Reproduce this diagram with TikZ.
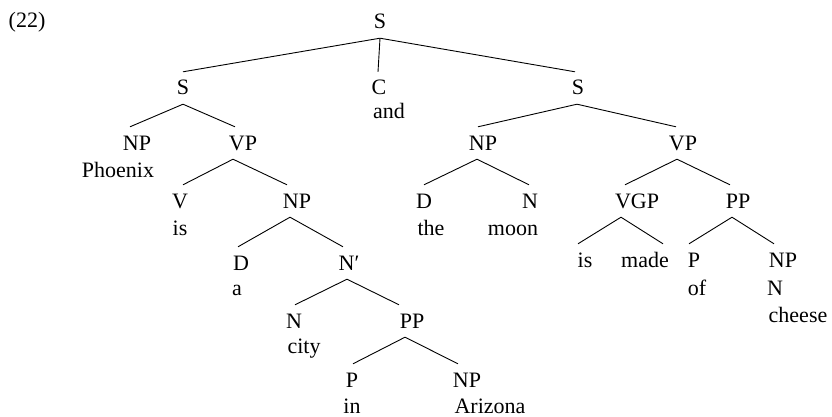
\documentclass[tikz,border=0pt]{standalone}
\usepackage{fontspec}
\setmainfont{Liberation Serif}
\begin{document}
\begin{tikzpicture}[x=1pt,y=-1pt,font=\fontsize{22}{26}\selectfont,
  cat/.style={anchor=base,inner xsep=0pt,inner ysep=9pt,text height=14pt,text depth=0pt},
  word/.style={anchor=base,inner sep=0pt},
  branch/.style={line width=0.9pt}]
\useasboundingbox (0,0) rectangle (832,417);
\node[word] (ex) at (27,28) {(22)};
% categories
\node[cat] (S0) at (380,29) {S};
\node[cat] (S1) at (183,95) {S};
\node[cat] (C) at (379,95) {C};
\node[cat] (S2) at (578,95) {S};
\node[cat] (NP1) at (137,150) {NP};
\node[cat] (VP1) at (243,150) {VP};
\node[cat] (NP4) at (483,150) {NP};
\node[cat] (VP2) at (683,150) {VP};
\node[cat] (V) at (180,208) {V};
\node[cat] (NP2) at (297,208) {NP};
\node[cat] (D2) at (424,208) {D};
\node[cat] (N3) at (530,208) {N};
\node[cat] (VGP) at (637,208) {VGP};
\node[cat] (PP2) at (738,208) {PP};
\node[cat] (D1) at (241,270) {D};
\node[cat] (Np) at (349,270) {N′};
\node[cat] (N2) at (294,328) {N};
\node[cat] (PP1) at (412,328) {PP};
\node[cat] (P1) at (352,387) {P};
\node[cat] (NP3) at (467,387) {NP};
\node[cat] (is2) at (585,267) {is};
\node[cat] (made) at (645,267) {made};
\node[cat] (P2) at (694,267) {P};
\node[cat] (NP5) at (783,267) {NP};
% words
\node[word] (w-and) at (389,118) {and};
\node[word] (w-phoenix) at (118,177) {Phoenix};
\node[word] (w-is) at (180,235) {is};
\node[word] (w-a) at (237,295) {a};
\node[word] (w-city) at (304,353) {city};
\node[word] (w-in) at (352,413) {in};
\node[word] (w-arizona) at (490,413) {Arizona};
\node[word] (w-the) at (431,235) {the};
\node[word] (w-moon) at (513,235) {moon};
\node[word] (w-of) at (697,295) {of};
\node[word] (w-N) at (775,295) {N};
\node[word] (w-cheese) at (798,322) {cheese};
% branches
\draw[branch] (S0.south) -- (S1.north);
\draw[branch] (S0.south) -- ([xshift=-1pt]C.north);
\draw[branch] (S0.south) -- ([xshift=-3pt]S2.north);
\draw[branch] (S1.south) -- ([xshift=-7pt]NP1.north);
\draw[branch] (S1.south) -- ([xshift=-8pt]VP1.north);
\draw[branch] ([xshift=-10pt]VP1.south) -- ([xshift=3pt]V.north);
\draw[branch] ([xshift=-10pt]VP1.south) -- ([xshift=-10pt]NP2.north);
\draw[branch] ([xshift=-7pt]NP2.south) -- ([xshift=-3pt]D1.north);
\draw[branch] ([xshift=-7pt]NP2.south) -- ([xshift=-6pt]Np.north);
\draw[branch] ([xshift=-2pt]Np.south) -- ([xshift=1pt]N2.north);
\draw[branch] ([xshift=-2pt]Np.south) -- ([xshift=-13pt]PP1.north);
\draw[branch] ([xshift=-7pt]PP1.south) -- ([xshift=1pt]P1.north);
\draw[branch] ([xshift=-7pt]PP1.south) -- ([xshift=-9pt]NP3.north);
\draw[branch] ([xshift=-1pt]S2.south) -- ([xshift=-5pt]NP4.north);
\draw[branch] ([xshift=-1pt]S2.south) -- ([xshift=-7pt]VP2.north);
\draw[branch] ([xshift=-6pt]NP4.south) -- (D2.north);
\draw[branch] ([xshift=-6pt]NP4.south) -- ([xshift=-1pt]N3.north);
\draw[branch] ([xshift=-6pt]VP2.south) -- ([xshift=-12pt]VGP.north);
\draw[branch] ([xshift=-6pt]VP2.south) -- ([xshift=-8pt]PP2.north);
\draw[branch] ([xshift=-16pt]VGP.south) -- ([xshift=-7pt]is2.north);
\draw[branch] ([xshift=-16pt]VGP.south) -- ([xshift=18pt]made.north);
\draw[branch] ([xshift=-6pt]PP2.south) -- ([xshift=-5pt]P2.north);
\draw[branch] ([xshift=-6pt]PP2.south) -- ([xshift=-9pt]NP5.north);
\end{tikzpicture}
\end{document}
